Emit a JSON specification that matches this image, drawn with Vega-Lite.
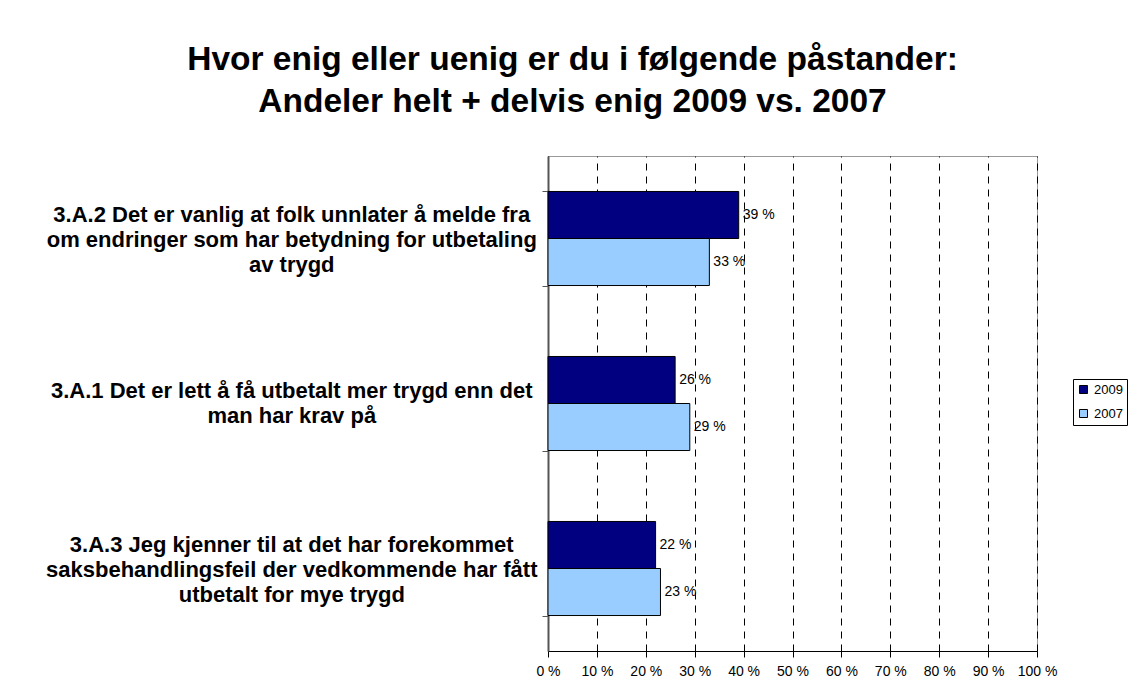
{
  "$schema": "https://vega.github.io/schema/vega-lite/v6.json",
  "width": 489,
  "height": 495,
  "autosize": {"type": "none"},
  "padding": {"left": 548, "top": 156, "right": 93, "bottom": 47},
  "background": "white",
  "config": {
    "font": "Liberation Sans",
    "view": {"stroke": "#999999", "strokeWidth": 1}
  },
  "title": {
    "text": ["Hvor enig eller uenig er du i følgende påstander:", "Andeler helt + delvis enig 2009 vs. 2007"],
    "font": "Liberation Sans",
    "fontSize": 33.5,
    "fontWeight": "bold",
    "lineHeight": 42,
    "color": "black",
    "anchor": "middle",
    "frame": "group",
    "dx": -220,
    "offset": 37
  },
  "data": {
    "values": [
      {"q": "3.A.2 Det er vanlig at folk unnlater å melde fra|om endringer som har betydning for utbetaling|av trygd", "lines": 3, "year": "2009", "value": 39},
      {"q": "3.A.2 Det er vanlig at folk unnlater å melde fra|om endringer som har betydning for utbetaling|av trygd", "lines": 3, "year": "2007", "value": 33},
      {"q": "3.A.1 Det er lett å få utbetalt mer trygd enn det|man har krav på", "lines": 2, "year": "2009", "value": 26},
      {"q": "3.A.1 Det er lett å få utbetalt mer trygd enn det|man har krav på", "lines": 2, "year": "2007", "value": 29},
      {"q": "3.A.3 Jeg kjenner til at det har forekommet|saksbehandlingsfeil der vedkommende har fått|utbetalt for mye trygd", "lines": 3, "year": "2009", "value": 22},
      {"q": "3.A.3 Jeg kjenner til at det har forekommet|saksbehandlingsfeil der vedkommende har fått|utbetalt for mye trygd", "lines": 3, "year": "2007", "value": 23}
    ]
  },
  "transform": [{"calculate": "datum.value + ' %'", "as": "label"}],
  "encoding": {
    "y": {
      "field": "q",
      "type": "nominal",
      "sort": null,
      "scale": {"paddingInner": 0.43, "paddingOuter": 0.215},
      "axis": {
        "title": null,
        "labels": false,
        "tickBand": "extent",
        "tickSize": 6,
        "tickColor": "#555555",
        "domainColor": "#555555",
        "domainWidth": 2,
        "grid": false
      }
    },
    "x": {
      "field": "value",
      "type": "quantitative",
      "scale": {"domain": [0, 100], "nice": false},
      "axis": {
        "title": null,
        "values": [0, 10, 20, 30, 40, 50, 60, 70, 80, 90, 100],
        "labelExpr": "datum.value + ' %'",
        "labelFont": "Liberation Sans",
        "labelFontSize": 14,
        "labelColor": "black",
        "labelPadding": 7,
        "labelOverlap": false,
        "labelFlush": false,
        "tickSize": 6,
        "tickColor": "black",
        "domainColor": "black",
        "grid": true,
        "gridColor": "black",
        "gridDash": [7, 6],
        "gridWidth": 1
      }
    }
  },
  "layer": [
    {
      "mark": {"type": "bar", "stroke": "black", "strokeWidth": 1},
      "encoding": {
        "yOffset": {"field": "year", "type": "nominal", "sort": ["2009", "2007"]},
        "color": {
          "field": "year",
          "type": "nominal",
          "sort": ["2009", "2007"],
          "scale": {"domain": ["2009", "2007"], "range": ["#000080", "#99CCFF"]},
          "legend": {
            "title": null,
            "orient": "none",
            "legendX": 525,
            "legendY": 223,
            "strokeColor": "black",
            "fillColor": "white",
            "padding": 4,
            "symbolType": "square",
            "symbolSize": 64,
            "symbolStrokeColor": "black",
            "symbolStrokeWidth": 1,
            "labelFont": "Liberation Sans",
            "labelFontSize": 13,
            "labelColor": "black",
            "rowPadding": 10,
            "labelOffset": 4
          }
        }
      }
    },
    {
      "mark": {"type": "text", "align": "left", "baseline": "middle", "dx": 4, "fontSize": 14, "font": "Liberation Sans", "color": "black"},
      "encoding": {
        "yOffset": {"field": "year", "type": "nominal", "sort": ["2009", "2007"]},
        "text": {"field": "label"}
      }
    },
    {
      "transform": [{"filter": "datum.year == '2009' && datum.lines == 3"}],
      "mark": {"type": "text", "align": "center", "baseline": "middle", "lineBreak": "|", "lineHeight": 25, "dy": -24, "fontSize": 22, "fontWeight": "bold", "font": "Liberation Sans", "color": "black"},
      "encoding": {
        "x": {"datum": -52.4, "type": "quantitative"},
        "text": {"field": "q"}
      }
    },
    {
      "transform": [{"filter": "datum.year == '2009' && datum.lines == 2"}],
      "mark": {"type": "text", "align": "center", "baseline": "middle", "lineBreak": "|", "lineHeight": 25, "dy": -13, "fontSize": 22, "fontWeight": "bold", "font": "Liberation Sans", "color": "black"},
      "encoding": {
        "x": {"datum": -52.4, "type": "quantitative"},
        "text": {"field": "q"}
      }
    }
  ]
}
